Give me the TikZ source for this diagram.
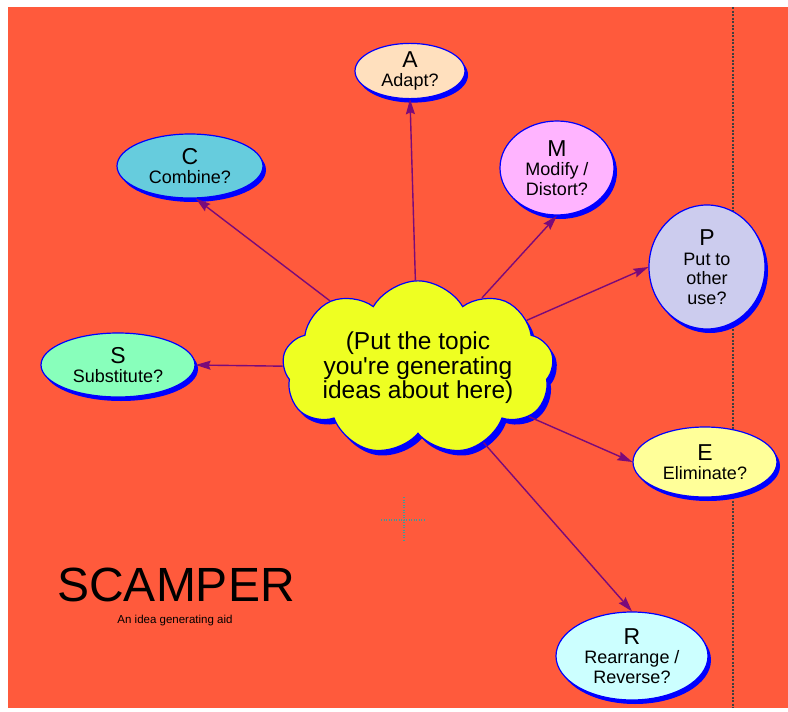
\documentclass[tikz,border=0pt]{standalone}
\usepackage{fontspec}
\setmainfont{Liberation Sans}
\usetikzlibrary{shapes.geometric,shapes.symbols,shadows,arrows.meta,positioning}
\definecolor{bgorange}{HTML}{FF5A3C}
\definecolor{linkpurple}{HTML}{7A0A7A}
\definecolor{cloudyellow}{HTML}{EEFF22}
\definecolor{adaptfill}{HTML}{FFE0BE}
\definecolor{combinefill}{HTML}{66CCDD}
\definecolor{modifyfill}{HTML}{FFB4FF}
\definecolor{putfill}{HTML}{CCCCEE}
\definecolor{substfill}{HTML}{88FFBB}
\definecolor{elimfill}{HTML}{FFFF99}
\definecolor{rearrfill}{HTML}{CCFFFF}
\definecolor{crossteal}{HTML}{3F9A9A}

\begin{document}
\begin{tikzpicture}[x=1pt,y=-1pt,
		idea/.style={ellipse, draw=blue, line width=1.2pt, inner sep=0pt, align=center,
			font=\fontsize{18}{19.5}\selectfont,
			drop shadow={fill=blue, opacity=1, shadow xshift=3pt, shadow yshift=-4pt}},
		topic/.style={cloud, cloud puffs=9, cloud puff arc=120, aspect=2, draw=blue,
			line width=1.2pt, fill=cloudyellow, inner xsep=-3pt, inner ysep=-9pt, align=center,
			font=\fontsize{24.5}{24.5}\selectfont,
			drop shadow={fill=blue, opacity=1, shadow xshift=4pt, shadow yshift=-5pt}},
		link/.style={draw=linkpurple, line width=1.4pt, -{Stealth[length=15pt,width=9pt,inset=2pt]}},
		crossline/.style={crossteal, line width=1.5pt, dash pattern=on 1pt off 1.5pt}]
			\useasboundingbox (0,0) rectangle (788,712);
			\fill [white] (0,0) rectangle (788,712);
			\fill [bgorange] (8,7) rectangle (788,708);
			\draw [gray!50!black, line width=1.6pt, dash pattern=on 2pt off 1.5pt] (733,7) to (733,708);

			% grid mark
			\draw [crossline] (381,520) to (424,520);
			\draw [crossline] (404,497) to (404,542);

			% the topic in the middle
			\node [topic] (topic) at (418,368) {(Put the topic\\you\textquotesingle re generating\\ideas about here)};

			% the seven questions
			\node [idea, fill=adaptfill, minimum width=110, minimum height=52] (adapt) at (410,71) {{\fontsize{23}{23}\selectfont A}\\Adapt?};
			\node [idea, fill=combinefill, minimum width=146, minimum height=64] (combine) at (190,166) {{\fontsize{23}{23}\selectfont C}\\Combine?};
			\node [idea, fill=modifyfill, minimum width=114, minimum height=94] (modify) at (557,168) {{\fontsize{23}{23}\selectfont M}\\Modify /\\Distort?};
			\node [idea, fill=putfill, minimum width=116, minimum height=124] (put) at (707,267) {{\fontsize{23}{23}\selectfont P}\\Put to\\other\\use?};
			\node [idea, fill=substfill, minimum width=154, minimum height=64] (subst) at (118,365) {{\fontsize{23}{23}\selectfont S}\\Substitute?};
			\node [idea, fill=elimfill, minimum width=144, minimum height=70] (elim) at (705,462) {{\fontsize{23}{23}\selectfont E}\\Eliminate?};
			\node [idea, fill=rearrfill, minimum width=152, minimum height=88] (rearr) at (632,656) {{\fontsize{23}{23}\selectfont R}\\Rearrange /\\Reverse?};

			\draw [link] (topic) to (adapt.south);
			\draw [link] (topic) to (combine.-80);
			\draw [link] (topic) to (modify.south);
			\draw [link] (topic) to (put.west);
			\draw [link] (topic) to (subst.east);
			\draw [link] (topic) to (elim.west);
			\draw [link] (topic) to (rearr.north);

			\node [font=\fontsize{48}{48}\selectfont] (title) at (176,585) {SCAMPER};
			\node [font=\fontsize{11.5}{12}\selectfont] (subtitle) at (175,621) {An idea generating aid};
		\end{tikzpicture}
\end{document}
